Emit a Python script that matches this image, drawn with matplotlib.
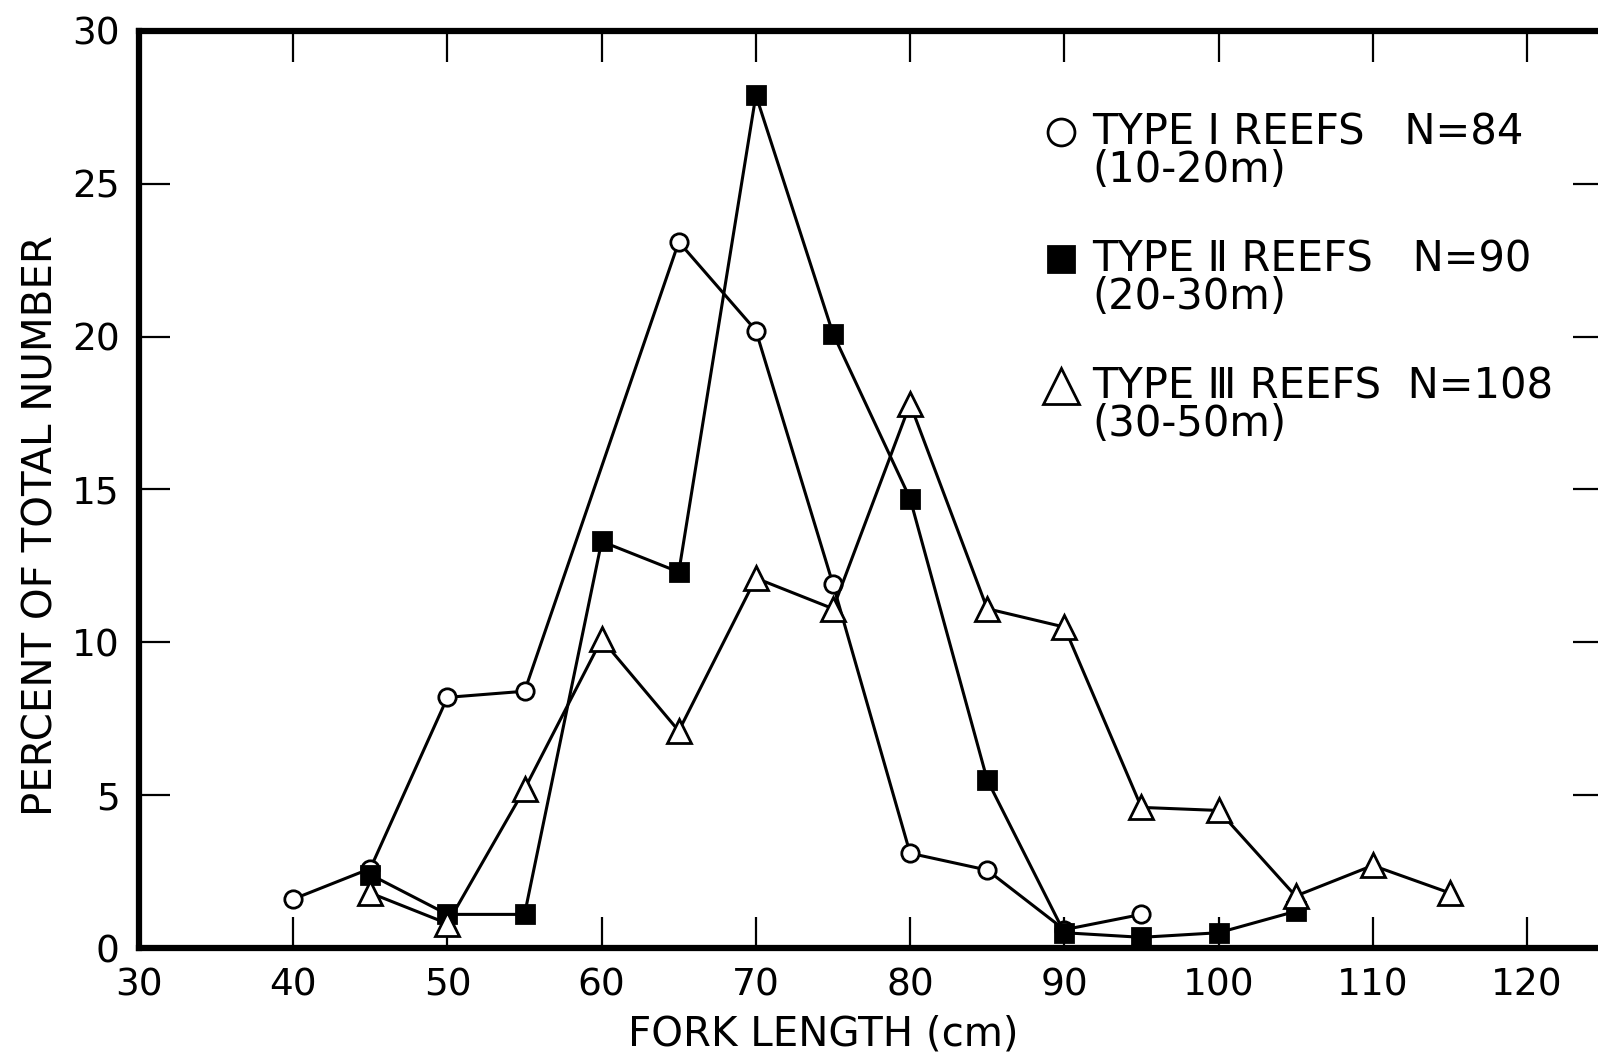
import numpy as np
import matplotlib as mpl
mpl.use('Agg')
from matplotlib import pyplot as plt
from matplotlib.legend_handler import HandlerLine2D

# fork length classes (cm) and percent of total number
xType1 = [40, 45, 50, 55, 65, 70, 75, 80, 85, 90, 95]
yType1 = [1.6, 2.6, 8.2, 8.4, 23.1, 20.2, 11.9, 3.1, 2.55, 0.6, 1.1]

xType2 = [45, 50, 55, 60, 65, 70, 75, 80, 85, 90, 95, 100, 105]
yType2 = [2.4, 1.1, 1.1, 13.3, 12.3, 27.9, 20.1, 14.7, 5.5, 0.5, 0.35, 0.5, 1.2]

xType3 = [45, 50, 55, 60, 65, 70, 75, 80, 85, 90, 95, 100, 105, 110, 115]
yType3 = [1.8, 0.8, 5.2, 10.1, 7.1, 12.1, 11.1, 17.8, 11.1, 10.5, 4.6, 4.5, 1.7, 2.7, 1.8]

labels = ['TYPE \u2160 REEFS   N=84\n(10-20m)',
          'TYPE \u2161 REEFS   N=90\n(20-30m)',
          'TYPE \u2162 REEFS  N=108\n(30-50m)']

xTicks = np.arange(30, 121, 10)
yTicks = np.arange(0, 31, 5)

FS = 27      # tick labels
FSLAB = 29   # axis labels
FSLEG = 30   # legend
plt.rcParams['font.family'] = 'DejaVu Sans'


class UpperMarkerHandler(HandlerLine2D):
    # marker only, next to the first line of a two-line label
    def __init__(self, shift, **kw):
        HandlerLine2D.__init__(self, **kw)
        self.shift = shift

    def create_artists(self, legend, orig_handle, xdescent, ydescent,
                       width, height, fontsize, trans):
        artists = HandlerLine2D.create_artists(self, legend, orig_handle,
                                               xdescent, ydescent, width,
                                               height, fontsize, trans)
        for a in artists:
            a.set_ydata(np.asarray(a.get_ydata()) + self.shift)
            a.set_linestyle('none')
        return artists


f = plt.figure(figsize=(15.98, 10.53), dpi=100)
ax1 = f.add_axes([0.087, 0.0997, 0.9168, 0.8709])

common = dict(color='black', lw=2.2, clip_on=False, zorder=3)
h1, = ax1.plot(xType1, yType1, marker='o', ms=12.5, mfc='white', mec='black',
               mew=2.0, label=labels[0], **common)
h2, = ax1.plot(xType2, yType2, marker='s', ms=12.5, mfc='black', mec='black',
               mew=2.0, label=labels[1], **common)
h3, = ax1.plot(xType3, yType3, marker='^', ms=17, mfc='white', mec='black',
               mew=2.0, label=labels[2], **common)

ax1.set_xlim(30, 125)
ax1.set_ylim(0, 30)
ax1.set_xticks(xTicks)
ax1.set_yticks(yTicks)
ax1.set_xticklabels([str(v) for v in xTicks])
ax1.set_yticklabels([str(v) for v in yTicks])

ax1.tick_params(axis='both', which='major', direction='in', length=22,
                width=1.6, labelsize=FS, top=True, right=True,
                color='black')
ax1.tick_params(axis='x', pad=14)
ax1.tick_params(axis='y', pad=14)

for side in ['left', 'bottom', 'top', 'right']:
    ax1.spines[side].set_linewidth(4.5)

ax1.set_xlabel('FORK LENGTH (cm)', fontsize=FSLAB)
ax1.set_ylabel('PERCENT OF TOTAL NUMBER', fontsize=FSLAB)
ax1.xaxis.set_label_coords(0.467, -0.073)
ax1.yaxis.set_label_coords(-0.053, 0.461)

leg = ax1.legend(handles=[h1, h2, h3],
                 loc='upper left',
                 bbox_to_anchor=(0.605, 0.93),
                 fontsize=FSLEG,
                 frameon=False,
                 markerscale=1.55,
                 handlelength=0.9,
                 handletextpad=0.3,
                 labelspacing=1.15,
                 borderaxespad=0.0,
                 handler_map={h: UpperMarkerHandler(shift=FSLEG * 0.52, numpoints=1)
                              for h in [h1, h2, h3]})
for t in leg.get_texts():
    t.set_linespacing(0.85)

f.savefig('out.png', dpi=100)
plt.close()
